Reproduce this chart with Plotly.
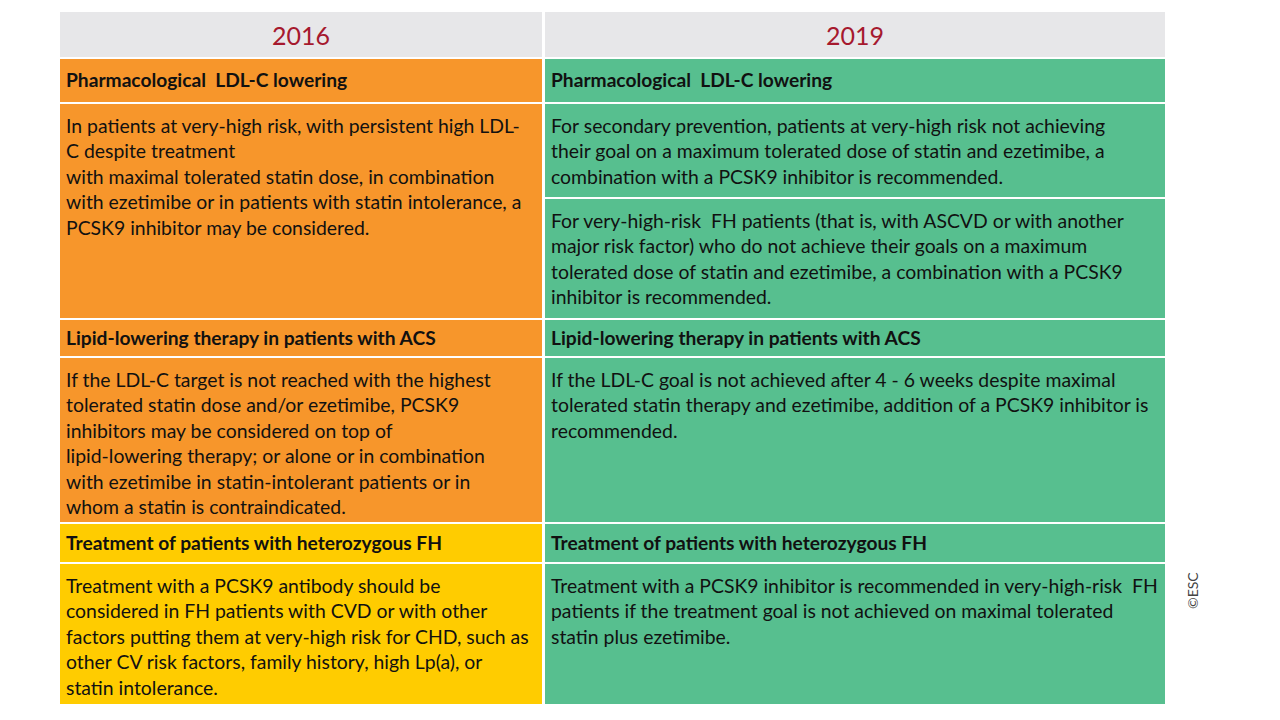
import plotly.graph_objects as go

# --- data -------------------------------------------------------------
years = ["2016", "2019"]

section_titles = [
    "Pharmacological  LDL-C lowering",
    "Lipid-lowering therapy in patients with ACS",
    "Treatment of patients with heterozygous FH",
]

# one list of lines per cell
text_2016 = [
    ["In patients at very-high risk, with persistent high LDL-",
     "C despite treatment",
     "with maximal tolerated statin dose, in combination",
     "with ezetimibe or in patients with statin intolerance, a",
     "PCSK9 inhibitor may be considered."],
    ["If the LDL-C target is not reached with the highest",
     "tolerated statin dose and/or ezetimibe, PCSK9",
     "inhibitors may be considered on top of",
     "lipid-lowering therapy; or alone or in combination",
     "with ezetimibe in statin-intolerant patients or in",
     "whom a statin is contraindicated."],
    ["Treatment with a PCSK9 antibody should be",
     "considered in FH patients with CVD or with other",
     "factors putting them at very-high risk for CHD, such as",
     "other CV risk factors, family history, high Lp(a), or",
     "statin intolerance."],
]

# 2019 side: section 1 is split in two cells
text_2019 = [
    [["For secondary prevention, patients at very-high risk not achieving",
      "their goal on a maximum tolerated dose of statin and ezetimibe, a",
      "combination with a PCSK9 inhibitor is recommended."],
     ["For very-high-risk  FH patients (that is, with ASCVD or with another",
      "major risk factor) who do not achieve their goals on a maximum",
      "tolerated dose of statin and ezetimibe, a combination with a PCSK9",
      "inhibitor is recommended."]],
    [["If the LDL-C goal is not achieved after 4 - 6 weeks despite maximal",
      "tolerated statin therapy and ezetimibe, addition of a PCSK9 inhibitor is",
      "recommended."]],
    [["Treatment with a PCSK9 inhibitor is recommended in very-high-risk  FH",
      "patients if the treatment goal is not achieved on maximal tolerated",
      "statin plus ezetimibe."]],
]

# --- layout / styling -------------------------------------------------
ORANGE = "#F7962B"
YELLOW = "#FFCC00"
GREEN = "#57BF8F"
HEADER_BG = "#E7E7E9"
RED = "#A6192E"
FONT = "Lato"
PAGE_OFFSET = 8  # browser body margin

left_colors = [ORANGE, ORANGE, YELLOW]
cols = [(60, 542), (545, 1165)]
header = (12, 57)
title_rows = [(59, 102), (320, 356), (524, 562)]
body_rows = [[(104, 318)], [(358, 522)], [(564, 704)]]
body_rows_2019 = [[(104, 197), (199, 318)], [(358, 522)], [(564, 704)]]
PAD_X = 4
FIRST_LINE = 21
LINE_H = 25.5

fig = go.Figure()
shapes = []
annotations = []


def cell(x0, x1, y0, y1, color):
    shapes.append(dict(type="rect", x0=x0, x1=x1, y0=y0, y1=y1,
                       fillcolor=color, line=dict(width=0), layer="below"))


def lines_in(x0, y0, lines):
    for i, ln in enumerate(lines):
        annotations.append(dict(x=x0 + PAD_X, y=y0 + FIRST_LINE + i * LINE_H,
                                text=ln, showarrow=False, xanchor="left",
                                yanchor="middle",
                                font=dict(family=FONT, size=19.4, color="#111")))


# header
for (x0, x1), yr in zip(cols, years):
    cell(x0, x1, header[0], header[1], HEADER_BG)
    annotations.append(dict(x=(x0 + x1) / 2, y=sum(header) / 2, text=yr,
                            showarrow=False,
                            font=dict(family=FONT, size=25, color=RED)))

for k, title in enumerate(section_titles):
    for c, (x0, x1) in enumerate(cols):
        color = left_colors[k] if c == 0 else GREEN
        ty0, ty1 = title_rows[k]
        cell(x0, x1, ty0, ty1, color)
        annotations.append(dict(x=x0 + PAD_X, y=(ty0 + ty1) / 2 - 1,
                                text="<b>" + title + "</b>", showarrow=False,
                                xanchor="left", yanchor="middle",
                                font=dict(family=FONT, size=19.2, color="#111")))
    # 2016 body
    x0, x1 = cols[0]
    for (by0, by1) in body_rows[k]:
        cell(x0, x1, by0, by1, left_colors[k])
        lines_in(x0, by0, text_2016[k])
    # 2019 body
    x0, x1 = cols[1]
    for (by0, by1), lines in zip(body_rows_2019[k], text_2019[k]):
        cell(x0, x1, by0, by1, GREEN)
        lines_in(x0, by0, lines)

annotations.append(dict(x=1192, y=591, text="©ESC", textangle=-90,
                        showarrow=False,
                        font=dict(family=FONT, size=14, color="#444")))

fig.update_layout(
    width=1280, height=720,
    margin=dict(l=0, r=0, t=0, b=0),
    paper_bgcolor="white", plot_bgcolor="white",
    xaxis=dict(range=[PAGE_OFFSET, 1280 + PAGE_OFFSET], visible=False,
               fixedrange=True),
    yaxis=dict(range=[720 + PAGE_OFFSET, PAGE_OFFSET], visible=False,
               fixedrange=True),
    shapes=shapes, annotations=annotations,
    showlegend=False,
)
fig.write_html("out.html")
